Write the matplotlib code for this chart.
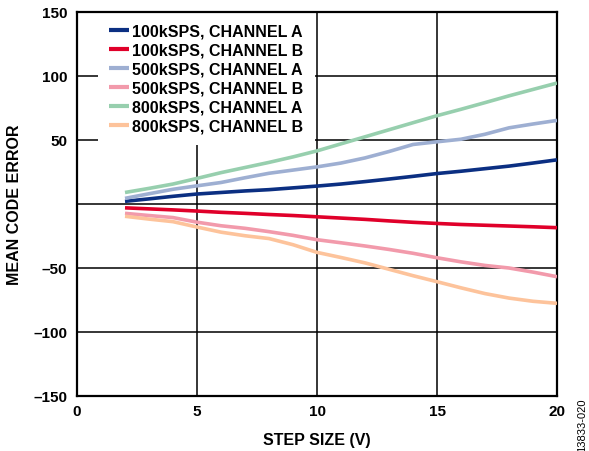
import matplotlib
matplotlib.use("Agg")
import matplotlib.pyplot as plt
from matplotlib.ticker import FixedLocator, FixedFormatter

plt.rcParams['font.family'] = ['Liberation Sans', 'DejaVu Sans']
plt.rcParams['font.weight'] = 'bold'

# Step sizes (V)
step_size = [2, 3, 4, 5, 6, 7, 8, 9, 10, 11, 12, 13, 14, 15, 16, 17, 18, 19, 20]

# Mean code error per configuration
err_100k_a = [2.1, 4.0, 6.0, 7.8, 9.0, 10.2, 11.2, 12.6, 14.0, 15.6, 17.5, 19.5, 21.6, 23.8, 25.6, 27.6, 29.6, 32.0, 34.5]
err_100k_b = [-3.0, -3.8, -4.6, -5.5, -6.5, -7.3, -8.2, -9.0, -10.0, -11.0, -12.0, -13.2, -14.3, -15.2, -16.0, -16.6, -17.2, -17.8, -18.5]
err_500k_a = [4.4, 8.0, 11.5, 14.2, 16.8, 20.5, 24.0, 26.5, 29.0, 32.0, 36.0, 41.0, 46.5, 48.6, 50.6, 54.5, 59.5, 62.5, 65.3]
err_500k_b = [-7.3, -9.0, -10.6, -14.2, -17.0, -19.0, -21.6, -24.5, -27.9, -30.3, -32.8, -35.5, -38.5, -42.0, -45.2, -48.0, -50.0, -53.2, -56.8]
err_800k_a = [9.0, 12.2, 15.6, 20.0, 24.5, 28.5, 32.5, 36.8, 41.5, 47.0, 52.5, 58.0, 63.5, 69.0, 74.0, 79.2, 84.5, 89.5, 94.5]
err_800k_b = [-9.6, -11.8, -13.8, -18.0, -22.0, -24.8, -27.0, -31.8, -37.8, -41.8, -46.0, -51.0, -56.0, -60.7, -65.5, -70.0, -73.5, -76.0, -77.6]

series = [
    ("100kSPS, CHANNEL A", err_100k_a, "#0b2f82"),
    ("100kSPS, CHANNEL B", err_100k_b, "#e0002a"),
    ("500kSPS, CHANNEL A", err_500k_a, "#9eafd2"),
    ("500kSPS, CHANNEL B", err_500k_b, "#f29aab"),
    ("800kSPS, CHANNEL A", err_800k_a, "#97cfae"),
    ("800kSPS, CHANNEL B", err_800k_b, "#fdc39b"),
]

x_ticks = [0, 5, 10, 15, 20]
y_ticks = [150, 100, 50, 0, -50, -100, -150]
y_tick_labels = ["150", "100", "50", "", "\u201350", "\u2013100", "\u2013150"]

fig = plt.figure(figsize=(5.89, 4.52), dpi=100)
ax = fig.add_axes([77 / 589, 55 / 452, 480 / 589, 384 / 452])

for label, values, color in series:
    ax.plot(step_size, values, color=color, linewidth=2.6, label=label,
            solid_capstyle='butt', zorder=3)

ax.set_xlim(0, 20)
ax.set_ylim(-150, 150)
ax.xaxis.set_major_locator(FixedLocator(x_ticks))
ax.set_xticklabels([str(t) for t in x_ticks])
ax.yaxis.set_major_locator(FixedLocator(y_ticks))
ax.yaxis.set_major_formatter(FixedFormatter(y_tick_labels))
ax.tick_params(length=0, labelsize=11)
ax.tick_params(axis='x', pad=5.5)
ax.tick_params(axis='y', pad=7)
for lbl in ax.get_xticklabels() + ax.get_yticklabels():
    lbl.set_fontweight('bold')

ax.grid(True, color='black', linewidth=1.1, zorder=1)
ax.set_axisbelow(True)
for sp in ax.spines.values():
    sp.set_linewidth(1.6)
    sp.set_color('black')

ax.set_xlabel("STEP SIZE (V)", fontsize=11.5, fontweight='bold', labelpad=10)
ax.set_ylabel("MEAN CODE ERROR", fontsize=11.5, fontweight='bold', labelpad=8)

leg = ax.legend(loc='upper left', bbox_to_anchor=(0.043, 1.0), frameon=True,
                fancybox=False, edgecolor='none', facecolor='white', framealpha=1,
                fontsize=11.5, handlelength=1.25, handletextpad=0.15,
                labelspacing=0.245, borderpad=0.74, borderaxespad=0.0)
for t in leg.get_texts():
    t.set_fontweight('bold')
for h in leg.get_lines():
    h.set_linewidth(3)
leg.set_zorder(2)

fig.text(582 / 589, 27 / 452, "13833-020", rotation=90, fontsize=8,
         fontweight='normal', ha='center', va='center')

fig.savefig("out.png", dpi=100)
